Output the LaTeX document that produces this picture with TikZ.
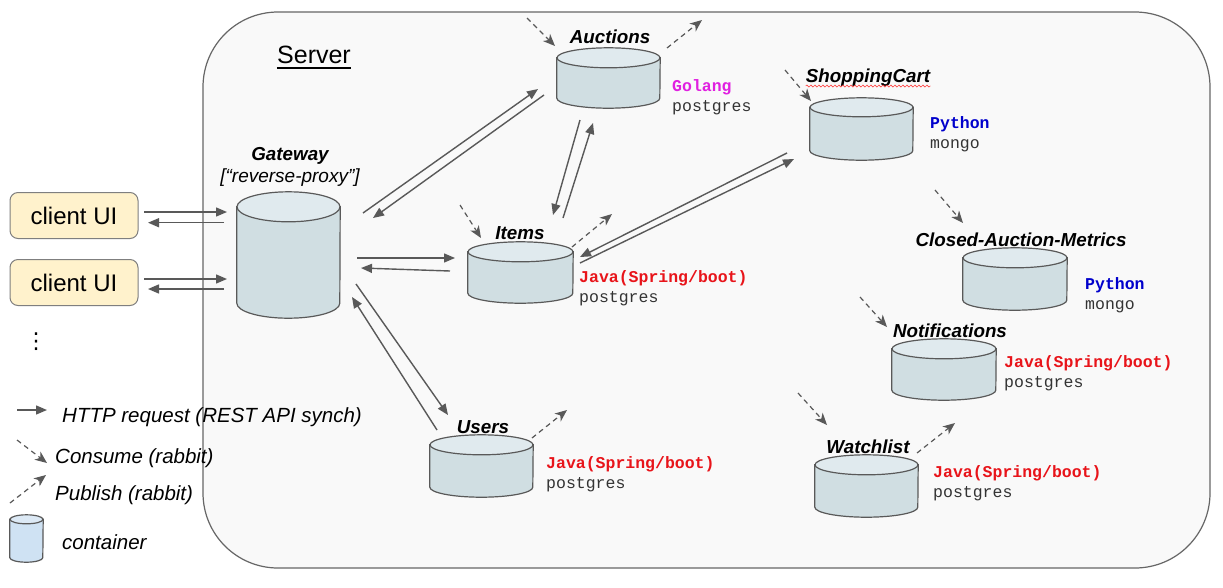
\documentclass[tikz,border=0pt]{standalone}
\usepackage{fontspec}
\setmainfont{Liberation Sans}
\newfontfamily\monof{Liberation Mono}
\newfontfamily\dejavu{DejaVu Sans}
\usetikzlibrary{arrows.meta,decorations.pathmorphing}
\definecolor{arr}{HTML}{595959}
\definecolor{cylbody}{HTML}{D0DEE2}
\definecolor{cyltop}{HTML}{E0EAEE}
\definecolor{srvfill}{HTML}{F9F9F9}
\definecolor{srvline}{HTML}{666666}
\definecolor{clientfill}{HTML}{FFF2CC}
\definecolor{clientline}{HTML}{7F7F7F}
\definecolor{golangc}{HTML}{E020E0}
\definecolor{javac}{HTML}{E8141A}
\definecolor{pythonc}{HTML}{0000CC}
\definecolor{monotext}{HTML}{333333}
\definecolor{legcyl}{HTML}{CFE2F3}
\definecolor{legcyltop}{HTML}{DCE9F5}
\newcommand\dbcyl[8]{% name cx cy w h ry bodyfill topfill
  \node[inner sep=0pt, minimum width=#4pt, minimum height=#5pt] (#1) at (#2,#3) {};
  \draw[cylline, fill=#7] ([yshift=-#6pt]#1.north west) -- ([yshift=#6pt]#1.south west)
     arc[start angle=180, end angle=360, x radius={#4pt/2}, y radius=#6pt] -- ([yshift=-#6pt]#1.north east) -- cycle;
  \draw[cylline, fill=#8] ([yshift=-#6pt]#1.north) ellipse [x radius={#4pt/2}, y radius=#6pt];
}
\begin{document}
\begin{tikzpicture}[x=1pt,y=-1pt,
  cylline/.style={draw=arr, line width=1.2pt},
  http/.style={draw=arr, line width=1.4pt, -{Triangle[length=11pt,width=9pt]}},
  pubsub/.style={draw=arr, line width=1.2pt, dash pattern=on 5pt off 4pt, -{Stealth[length=12pt,width=10pt,inset=3.5pt]}},
  lbl/.style={font=\fontsize{18.8}{22}\selectfont\bfseries\itshape, anchor=base, inner sep=0pt},
  tech/.style={font=\fontsize{16.5}{20}\selectfont\monof, text=monotext, anchor=base west, inner sep=0pt},
  legtxt/.style={font=\fontsize{20.5}{24}\selectfont\itshape, anchor=base west, inner sep=0pt},
  client/.style={draw=clientline, fill=clientfill, rounded corners=8pt, minimum width=128pt, minimum height=46pt, font=\fontsize{24}{28}\selectfont, line width=1pt, inner sep=0pt}
]
\useasboundingbox (0,0) rectangle (1223,587);
\fill[white] (0,0) rectangle (1223,587);

% server frame
\node[draw=srvline, fill=srvfill, line width=1.2pt, rounded corners=75pt, minimum width=1007pt, minimum height=556pt, inner sep=0pt] (server) at (706.5,290) {};
\node[font=\fontsize{25}{28}\selectfont, anchor=base, inner sep=0pt] (srvl) at (314,63) {Server};
\draw[line width=1.5pt] ([yshift=-5pt]srvl.base west) -- ([yshift=-5pt]srvl.base east);

% clients
\node[client] (c1) at (74,215.5) {client UI};
\node[client] (c2) at (74,282.5) {client UI};
\node[inner sep=0pt, font=\dejavu\fontsize{22}{24}\selectfont] (dots) at (36,342) {⋮};

% containers
\dbcyl{gw}{288.5}{255}{103}{126}{15}{cylbody}{cyltop}
\dbcyl{auc}{608.5}{78}{103}{60}{10}{cylbody}{cyltop}
\dbcyl{cart}{861.5}{129}{103}{62}{9.5}{cylbody}{cyltop}
\dbcyl{items}{520.5}{272.5}{105}{61}{10}{cylbody}{cyltop}
\dbcyl{cam}{1015}{279}{104}{62}{10}{cylbody}{cyltop}
\dbcyl{notif}{944}{369.5}{104}{61}{10}{cylbody}{cyltop}
\dbcyl{users}{481.5}{466}{103}{62}{10}{cylbody}{cyltop}
\dbcyl{watch}{866.5}{486}{103}{62}{10}{cylbody}{cyltop}

% labels
\node[lbl] (gwl) at (290,160) {Gateway};
\node[font=\fontsize{19}{22}\selectfont\itshape, anchor=base, inner sep=0pt] (gwl2) at (290,182) {[“reverse-proxy”]};
\node[lbl] (aucl) at (610,43) {Auctions};
\node[lbl] (cartl) at (868,82) {ShoppingCart};
\draw[red!75, line width=0.6pt, decorate, decoration={snake, amplitude=1pt, segment length=4pt}] ([yshift=-4pt]cartl.base west) -- ([yshift=-4pt]cartl.base east);
\node[lbl] (iteml) at (520,239) {Items};
\node[lbl] (caml) at (1021,246) {Closed-Auction-Metrics};
\node[lbl] (notifl) at (950,337) {Notifications};
\node[lbl] (usersl) at (483,433) {Users};
\node[lbl] (watchl) at (868,453) {Watchlist};

% technology labels
\node[tech, text=golangc] (auct1) at (672,91) {\bfseries Golang};
\node[tech] (auct2) at (672,111) {postgres};
\node[tech, text=pythonc] (cartt1) at (930,128) {\bfseries Python};
\node[tech] (cartt2) at (930,148) {mongo};
\node[tech, text=javac] (itemt1) at (579,282) {\bfseries Java(Spring/boot)};
\node[tech] (itemt2) at (579,302) {postgres};
\node[tech, text=pythonc] (camt1) at (1085,289) {\bfseries Python};
\node[tech] (camt2) at (1085,309) {mongo};
\node[tech, text=javac] (notift1) at (1004,367) {\bfseries Java(Spring/boot)};
\node[tech] (notift2) at (1004,387) {postgres};
\node[tech, text=javac] (userst1) at (546,468) {\bfseries Java(Spring/boot)};
\node[tech] (userst2) at (546,488) {postgres};
\node[tech, text=javac] (watcht1) at (933,477) {\bfseries Java(Spring/boot)};
\node[tech] (watcht2) at (933,497) {postgres};

% HTTP connectors
\draw[http] ([shift={(70,-3.5)}]c1.center) -- ([shift={(-61.5,-43)}]gw.center);
\draw[http] ([shift={(-64.5,-32.3)}]gw.center) -- ([shift={(74,7.2)}]c1.center);
\draw[http] ([shift={(70,-3.5)}]c2.center) -- ([shift={(-61.5,24)}]gw.center);
\draw[http] ([shift={(-64.5,34)}]gw.center) -- ([shift={(74,6.5)}]c2.center);
\draw[http] ([shift={(74.5,-42)}]gw.center) -- ([shift={(-70.5,11)}]auc.center);
\draw[http] ([shift={(-64.5,17)}]auc.center) -- ([shift={(84.5,-37)}]gw.center);
\draw[http] ([shift={(-28.5,42)}]auc.center) -- ([shift={(32.5,-57.5)}]items.center);
\draw[http] ([shift={(42.5,-54.5)}]items.center) -- ([shift={(-15.5,45)}]auc.center);
\draw[http] ([shift={(-74.5,24)}]cart.center) -- ([shift={(59.5,-15.5)}]items.center);
\draw[http] ([shift={(59.5,-9.5)}]items.center) -- ([shift={(-67.5,30)}]cart.center);
\draw[http] ([shift={(68.5,3)}]gw.center) -- ([shift={(-65.5,-14.5)}]items.center);
\draw[http] ([shift={(-70.5,-1.5)}]items.center) -- ([shift={(72.5,13)}]gw.center);
\draw[http] ([shift={(67.5,29)}]gw.center) -- ([shift={(-33.5,-51)}]users.center);
\draw[http] ([shift={(-44.5,-36)}]users.center) -- ([shift={(63.5,42)}]gw.center);

% rabbit consume / publish
\coordinate (aucIn) at (527,18);
\coordinate (aucOut) at (702,20);
\coordinate (cartIn) at (785,70);
\coordinate (itemsIn) at (460,205);
\coordinate (itemsOut) at (612,214);
\coordinate (camIn) at (935,190);
\coordinate (notifIn) at (860,297);
\coordinate (usersOut) at (567,410);
\coordinate (watchIn) at (798,393);
\coordinate (watchOut) at (955,423);
\draw[pubsub] (aucIn) -- ([shift={(-53.5,-32)}]auc.center);
\draw[pubsub] ([shift={(58.5,-30)}]auc.center) -- (aucOut);
\draw[pubsub] (cartIn) -- ([shift={(-50.5,-28)}]cart.center);
\draw[pubsub] (itemsIn) -- ([shift={(-39.5,-34.5)}]items.center);
\draw[pubsub] ([shift={(51.5,-25.5)}]items.center) -- (itemsOut);
\draw[pubsub] (camIn) -- ([shift={(-52,-56)}]cam.center);
\draw[pubsub] (notifIn) -- ([shift={(-57,-42.5)}]notif.center);
\draw[pubsub] ([shift={(50.5,-28)}]users.center) -- (usersOut);
\draw[pubsub] (watchIn) -- ([shift={(-39.5,-61)}]watch.center);
\draw[pubsub] ([shift={(50.5,-33)}]watch.center) -- (watchOut);

% legend
\coordinate (lh1) at (17,410);
\coordinate (lh2) at (47,410);
\coordinate (lc1) at (17,440);
\coordinate (lc2) at (47,463);
\coordinate (lp1) at (10,503);
\coordinate (lp2) at (46,475);
\draw[http] (lh1) -- (lh2);
\draw[pubsub] (lc1) -- (lc2);
\draw[pubsub] (lp1) -- (lp2);
\node[legtxt] (lht) at (62,422) {HTTP request (REST API synch)};
\node[legtxt] (lct) at (55,463) {Consume (rabbit)};
\node[legtxt] (lpt) at (55,500) {Publish (rabbit)};
\dbcyl{lcyl}{26.5}{538.5}{33}{47}{4.5}{legcyl}{legcyltop}
\node[legtxt] (lcylt) at (62,549) {container};
\end{tikzpicture}
\end{document}
